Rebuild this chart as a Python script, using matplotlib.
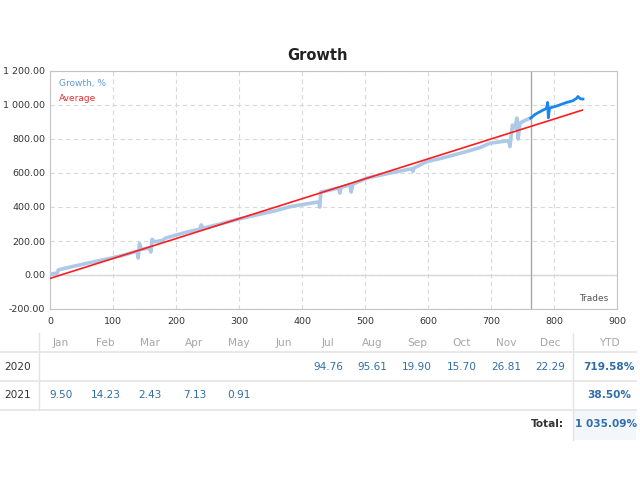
import matplotlib.pyplot as plt
from matplotlib.lines import Line2D
from matplotlib.patches import Rectangle

# growth curve (trades, growth %)
trades_old = [0, 5, 12, 13, 30, 60, 98, 120, 138, 140, 142, 145, 158, 160, 162, 166,
              180, 182, 200, 220, 238, 240, 243, 270, 300, 330, 360, 381, 410, 427,
              428, 430, 445, 458, 460, 462, 476, 478, 481, 503, 540, 574, 576, 578,
              598, 625, 660, 683, 698, 728, 730, 734, 738, 741, 743, 746, 757, 763]
growth_old = [3, 8, 12, 30, 45, 70, 100, 120, 140, 100, 185, 150, 160, 135, 210, 195,
              205, 215, 235, 255, 270, 295, 275, 300, 330, 355, 380, 402, 420, 430,
              400, 488, 500, 512, 482, 515, 530, 488, 535, 570, 600, 625, 610, 630,
              667, 690, 725, 750, 775, 790, 755, 882, 865, 923, 800, 894, 915, 923]
trades_new = [763, 770, 780, 788, 790, 791, 793, 805, 820, 830, 836, 838, 842, 846]
growth_new = [923, 945, 965, 980, 1015, 925, 982, 995, 1015, 1025, 1040, 1050, 1036, 1035]
avg_trades = [0, 845]
avg_values = [-20, 970]
split_trade = 763

months = ['Jan', 'Feb', 'Mar', 'Apr', 'May', 'Jun', 'Jul', 'Aug', 'Sep', 'Oct', 'Nov', 'Dec']
years = ['2020', '2021']
monthly = [
    ['', '', '', '', '', '', '94.76', '95.61', '19.90', '15.70', '26.81', '22.29'],
    ['9.50', '14.23', '2.43', '7.13', '0.91', '', '', '', '', '', '', ''],
]
ytd = ['719.58%', '38.50%']
total = '1 035.09%'

fig = plt.figure(figsize=(6.4, 4.8), dpi=100)
ax = fig.add_axes([50 / 640, 1 - 309 / 480, 567 / 640, 238 / 480])

ax.plot(trades_old, growth_old, color='#adc9e8', lw=2.6, solid_joinstyle='round', zorder=3)
ax.plot(trades_new, growth_new, color='#1a86ef', lw=2.0, solid_joinstyle='round', zorder=4)
ax.plot(avg_trades, avg_values, color='#ff1c1c', lw=1.2, zorder=5)
ax.axvline(split_trade, color='#a8a8a8', lw=1, zorder=2)
ax.axhline(0, color='#d8d8d8', lw=1, zorder=1)

ax.set_xlim(0, 900)
ax.set_ylim(-200, 1200)
ax.set_xticks(range(0, 901, 100))
ax.set_yticks(range(-200, 1201, 200))
ax.set_yticklabels([f'{v:,.2f}'.replace(',', ' ') for v in range(-200, 1201, 200)])
ax.tick_params(length=0, labelsize=6.8, colors='#333333')
ax.tick_params(axis='y', pad=3.5)
ax.tick_params(axis='x', pad=6)
ax.grid(True, color='#d9d9d9', ls=(0, (4, 3)), lw=0.8)
ax.set_axisbelow(True)
for s in ax.spines.values():
    s.set_color('#c4c4c4')

ax.text(0.015, 0.965, 'Growth, %', transform=ax.transAxes, color='#5b9be0',
        fontsize=6.5, va='top')
ax.text(0.015, 0.905, 'Average', transform=ax.transAxes, color='#e83030',
        fontsize=6.5, va='top')
ax.text(0.985, 0.025, 'Trades', transform=ax.transAxes, color='#555555',
        fontsize=6.5, ha='right', va='bottom')
fig.text(318 / 640, 1 - 55 / 480, 'Growth', ha='center', va='center',
         fontsize=10.5, fontweight='bold', color='#222222')

# table under the chart
W, H = 640, 480
def fx(x):
    return x / W
def fy(y):
    return 1 - y / H

fig.patches.append(Rectangle((fx(574), fy(440)), fx(62), 30 / H, transform=fig.transFigure,
                             facecolor='#f3f7fc', edgecolor='none'))
for yy in [352, 381, 410]:
    fig.lines.append(Line2D([0, fx(636)], [fy(yy), fy(yy)], transform=fig.transFigure,
                            color='#e4e4e4', lw=1.2))
fig.lines.append(Line2D([fx(39), fx(39)], [fy(333), fy(410)], transform=fig.transFigure,
                        color='#e4e4e4', lw=1))
fig.lines.append(Line2D([fx(573), fx(573)], [fy(333), fy(440)], transform=fig.transFigure,
                        color='#e4e4e4', lw=1))

col_x = [61 + i * 44.5 for i in range(12)]
tfs = 7.6
for x, m in zip(col_x, months):
    fig.text(fx(x), fy(343), m, ha='center', va='center', fontsize=tfs, color='#a6a6a6')
fig.text(fx(609), fy(343), 'YTD', ha='center', va='center', fontsize=tfs, color='#a6a6a6')

row_y = [367, 395]
for ry, yr, vals, yt in zip(row_y, years, monthly, ytd):
    fig.text(fx(18), fy(ry), yr, ha='center', va='center', fontsize=tfs, color='#333333')
    for x, v in zip(col_x, vals):
        fig.text(fx(x), fy(ry), v, ha='center', va='center', fontsize=tfs, color='#2f6ea8')
    fig.text(fx(609), fy(ry), yt, ha='center', va='center', fontsize=tfs,
             color='#2f6ea8', fontweight='bold')

fig.text(fx(564), fy(424), 'Total:', ha='right', va='center', fontsize=tfs,
         color='#333333', fontweight='bold')
fig.text(fx(606), fy(424), total, ha='center', va='center', fontsize=tfs,
         color='#2f6ea8', fontweight='bold')

fig.savefig('out.png', dpi=100)
